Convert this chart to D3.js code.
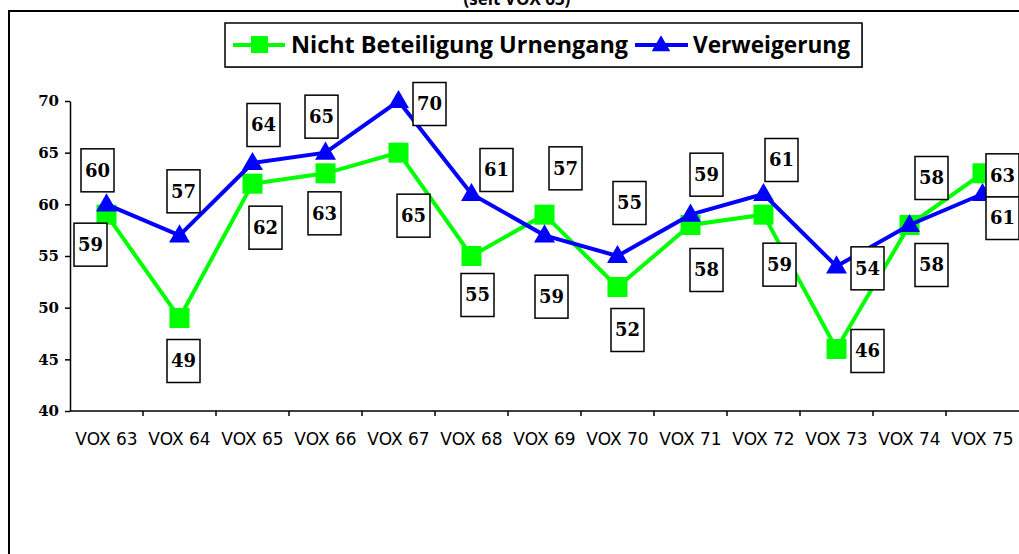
<!DOCTYPE html>
<html>
<head>
<meta charset="utf-8">
<script src="https://cdn.jsdelivr.net/npm/d3@7"></script>
<style>
  body { margin: 0; background: #fff; }
  svg { display: block; }
</style>
</head>
<body>
<div id="chart"></div>
<script>
var categories = ["VOX 63", "VOX 64", "VOX 65", "VOX 66", "VOX 67", "VOX 68", "VOX 69",
                  "VOX 70", "VOX 71", "VOX 72", "VOX 73", "VOX 74", "VOX 75"];
var nichtBeteiligung = [59, 49, 62, 63, 65, 55, 59, 52, 58, 59, 46, 58, 63];
var verweigerung = [60, 57, 64, 65, 70, 61, 57, 55, 59, 61, 54, 58, 61];
var yTicks = [40, 45, 50, 55, 60, 65, 70];
var seriesNames = ["Nicht Beteiligung Urnengang", "Verweigerung"];

// label box offsets from the point (px), as placed in the original
var greenLabelOffsets = [[-16, 30], [4, 43], [13, 44], [-1, 40], [15, 63], [6, 39], [7, 82],
                         [10, 43], [16, 45], [16, 50], [31, 2], [22, 40], [20, 2]];
var blueLabelOffsets = [[-9, -34], [4, -44], [11, -38], [-4, -36], [31, 3], [25, -24], [21, -67],
                        [12, -53], [16, -40], [18, -34], [31, 2], [22, -47], [20, 24]];

var width = 1019, height = 554;

var svg = d3.select("#chart").append("svg")
    .attr("width", width)
    .attr("height", height);

// title, cut off at the top as in the original
svg.append("text")
    .attr("x", 517)
    .attr("y", 5)
    .attr("text-anchor", "middle")
    .style("font-family", "'Open Sans', sans-serif")
    .style("font-weight", "bold")
    .style("font-size", "17px")
    .text("(seit VOX 63)");

// outer frame
svg.append("rect")
    .attr("x", 9).attr("y", 11)
    .attr("width", 1200).attr("height", 800)
    .attr("fill", "none")
    .attr("stroke", "#000")
    .attr("stroke-width", 2);

var x = d3.scaleBand()
    .domain(categories)
    .range([70, 1019])
    .padding(0);

var y = d3.scaleLinear()
    .domain([40, 70])
    .range([411, 101]);

// y axis
var yAxis = svg.append("g")
    .attr("transform", "translate(70,0)")
    .call(d3.axisLeft(y).tickValues(yTicks).tickSize(5).tickSizeOuter(0).tickPadding(6));
yAxis.select(".domain").attr("stroke", "#000").attr("stroke-width", 1.5);
yAxis.selectAll(".tick line").attr("stroke-width", 1.5);
yAxis.selectAll("text")
    .style("font-family", "'DejaVu Serif', serif")
    .style("font-weight", "bold")
    .style("font-size", "15px")
    .attr("fill", "#000");

// x axis
var xAxis = svg.append("g")
    .attr("transform", "translate(0,411)")
    .call(d3.axisBottom(x).tickSize(0).tickPadding(22));
xAxis.select(".domain").remove();
xAxis.selectAll("text")
    .style("font-family", "'DejaVu Sans', sans-serif")
    .style("font-size", "17px")
    .attr("fill", "#000");

svg.append("line")
    .attr("x1", 70).attr("x2", width)
    .attr("y1", 411).attr("y2", 411)
    .attr("stroke", "#000").attr("stroke-width", 1.5);

svg.selectAll(".xtick")
    .data(categories.slice(1))
    .enter().append("line")
    .attr("class", "xtick")
    .attr("x1", d => x(d)).attr("x2", d => x(d))
    .attr("y1", 411).attr("y2", 416)
    .attr("stroke", "#000").attr("stroke-width", 1.5);

var cx = (d, i) => x(categories[i]) + x.bandwidth() / 2;

var line = d3.line()
    .x((d, i) => cx(d, i))
    .y(d => y(d));

var triangle = d3.symbol().type(d3.symbolTriangle).size(190);

// green series
svg.append("path")
    .datum(nichtBeteiligung)
    .attr("d", line)
    .attr("fill", "none")
    .attr("stroke", "#00ff00")
    .attr("stroke-width", 4)
    .attr("stroke-linejoin", "miter");

svg.selectAll(".sq")
    .data(nichtBeteiligung)
    .enter().append("rect")
    .attr("class", "sq")
    .attr("x", (d, i) => cx(d, i) - 10)
    .attr("y", d => y(d) - 10)
    .attr("width", 20).attr("height", 20)
    .attr("fill", "#00ff00");

// blue series
svg.append("path")
    .datum(verweigerung)
    .attr("d", line)
    .attr("fill", "none")
    .attr("stroke", "#0000ff")
    .attr("stroke-width", 4)
    .attr("stroke-linejoin", "miter");

svg.selectAll(".tri")
    .data(verweigerung)
    .enter().append("path")
    .attr("class", "tri")
    .attr("d", triangle)
    .attr("transform", (d, i) => "translate(" + cx(d, i) + "," + (y(d) + 1) + ")")
    .attr("fill", "#0000ff");

// value labels in boxes
function addLabels(values, offsets, cls) {
    var g = svg.selectAll("." + cls)
        .data(values)
        .enter().append("g")
        .attr("class", cls)
        .attr("transform", (d, i) => "translate(" + (cx(d, i) + offsets[i][0]) + "," + (y(d) + offsets[i][1]) + ")");
    g.append("rect")
        .attr("x", -16.5).attr("y", -21.5)
        .attr("width", 33).attr("height", 43)
        .attr("fill", "#fff")
        .attr("stroke", "#000")
        .attr("stroke-width", 1.5);
    g.append("text")
        .attr("text-anchor", "middle")
        .attr("dy", "0.36em")
        .style("font-family", "'DejaVu Serif', serif")
        .style("font-weight", "bold")
        .style("font-size", "18px")
        .text(d => d);
}
addLabels(verweigerung, blueLabelOffsets, "lblB");
addLabels(nichtBeteiligung, greenLabelOffsets, "lblG");

// legend
var legend = svg.append("g");
legend.append("rect")
    .attr("x", 226).attr("y", 24)
    .attr("width", 637).attr("height", 44)
    .attr("fill", "#888");
legend.append("rect")
    .attr("x", 225).attr("y", 23)
    .attr("width", 637).attr("height", 44)
    .attr("fill", "#fff")
    .attr("stroke", "#000")
    .attr("stroke-width", 1.5);

legend.append("line")
    .attr("x1", 233).attr("x2", 285).attr("y1", 45).attr("y2", 45)
    .attr("stroke", "#00ff00").attr("stroke-width", 4);
legend.append("rect")
    .attr("x", 251).attr("y", 36).attr("width", 17).attr("height", 17)
    .attr("fill", "#00ff00");
legend.append("text")
    .attr("x", 291).attr("y", 45).attr("dy", "0.36em")
    .attr("textLength", 337)
    .attr("lengthAdjust", "spacingAndGlyphs")
    .style("font-family", "'Open Sans', sans-serif")
    .style("font-weight", "bold")
    .style("font-size", "23px")
    .text(seriesNames[0]);

legend.append("line")
    .attr("x1", 635).attr("x2", 688).attr("y1", 45).attr("y2", 45)
    .attr("stroke", "#0000ff").attr("stroke-width", 4);
legend.append("path")
    .attr("d", d3.symbol().type(d3.symbolTriangle).size(150))
    .attr("transform", "translate(661,46)")
    .attr("fill", "#0000ff");
legend.append("text")
    .attr("x", 693).attr("y", 45).attr("dy", "0.36em")
    .attr("textLength", 157)
    .attr("lengthAdjust", "spacingAndGlyphs")
    .style("font-family", "'Open Sans', sans-serif")
    .style("font-weight", "bold")
    .style("font-size", "23px")
    .text(seriesNames[1]);
</script>
</body>
</html>
